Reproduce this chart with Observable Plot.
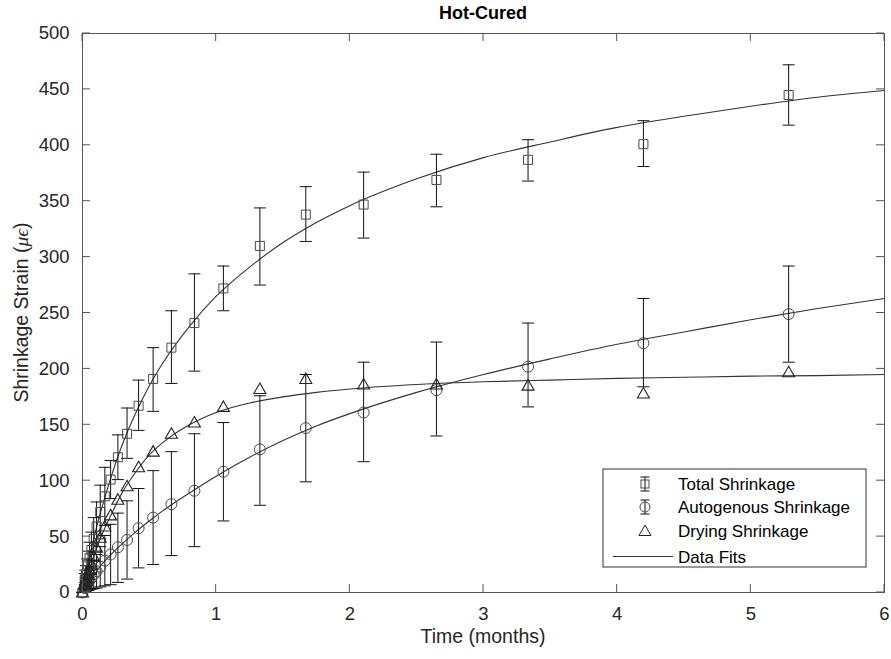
<!DOCTYPE html>
<html>
<head>
<meta charset="utf-8">
<script src="https://cdn.jsdelivr.net/npm/d3@7"></script>
<script src="https://cdn.jsdelivr.net/npm/@observablehq/plot@0.6"></script>
<style>
  html, body { margin: 0; padding: 0; background: #fff; }
  #chart { width: 891px; height: 659px; }
</style>
</head>
<body>
<div id="chart"></div>
<script>
// ---------- data ----------
const chartTitle = "Hot-Cured";
const xLabel = "Time (months)";
const yLabelMain = "Shrinkage Strain (";
const yLabelUnit = "μϵ";
const seriesNames = ["Total Shrinkage", "Autogenous Shrinkage", "Drying Shrinkage", "Data Fits"];

const xTicks = [0, 1, 2, 3, 4, 5, 6];
const yTicks = [0, 50, 100, 150, 200, 250, 300, 350, 400, 450, 500];

// measurement times (months)
const times = [0, 0.0167, 0.0210, 0.0264, 0.0333, 0.0420, 0.0528, 0.0667, 0.0837, 0.1054, 0.1327,
  0.1671, 0.2103, 0.2648, 0.3333, 0.4196, 0.5283, 0.6651, 0.8373, 1.0541, 1.3270, 1.6706,
  2.1032, 2.6478, 3.3333, 4.1964, 5.2829];

const totalVals = [0, 11, 13, 16, 20, 25, 31, 38, 48, 59, 72, 86, 101, 121, 142, 167, 191, 219, 241, 272, 310, 338, 347, 369, 387, 401, 445];
const totalLo   = [0, 5, 6, 8, 10, 13, 17, 22, 29, 37, 48, 60, 84, 101, 120, 145, 162, 187, 198, 252, 275, 314, 317, 345, 368, 381, 418];
const totalHi   = [0, 17, 20, 24, 30, 37, 45, 54, 67, 81, 96, 112, 118, 141, 165, 190, 219, 252, 285, 292, 344, 363, 376, 392, 405, 422, 472];

const autoVals = [0, 4, 5, 6, 7.5, 9, 11, 13, 16, 19, 23, 28.5, 34, 40.5, 47, 57.5, 67, 79, 91, 108, 128, 147, 161, 181, 202, 223, 249];
const autoLo   = [0, 1, 1, 1.5, 2, 2, 2.5, 3, 3.5, 4, 5, 6, 7, 9, 12, 22, 25, 33, 41, 64, 78, 99, 117, 140, 166, 184, 206];
const autoHi   = [0, 7, 9, 10.5, 13, 16, 19.5, 23, 28.5, 34, 41, 51, 61, 71, 82, 93, 109, 126, 142, 152, 176, 195, 206, 224, 241, 263, 292];

const dryVals = [0, 7, 8, 10, 12.5, 16, 20, 25, 32, 40, 49, 59, 69, 83, 95, 112, 126, 142, 152, 166, 182, 191, 186, 186, 185, 178, 197];

// fitted curves
const fitT     = [0, 0.02, 0.05, 0.1, 0.15, 0.2, 0.3, 0.4, 0.5, 0.6, 0.8, 1.0, 1.25, 1.5, 1.75, 2.0, 2.5, 3.0, 3.5, 4.0, 4.5, 5.0, 5.5, 6.0];
const fitTotal = [0, 13, 30, 56, 78, 98, 133, 161, 185, 205, 238, 265, 291, 313, 331, 346, 370, 389, 403, 416, 426, 435, 443, 449];
const fitAuto  = [0, 4, 9.5, 18, 26, 32.5, 44, 54.5, 64, 73, 89, 104, 121, 136, 149, 160, 179, 195, 209, 222, 233, 244, 254, 263];
const fitDry   = [0, 8, 20, 38, 53, 66, 90, 108, 123, 134, 150, 161, 169.5, 175, 179, 182, 186, 188.5, 190, 191.5, 192.5, 193.5, 194, 195];

// ---------- tables built from the arrays ----------
const totalData = times.map((t, i) => ({t, v: totalVals[i], lo: totalLo[i], hi: totalHi[i]}));
const autoData  = times.map((t, i) => ({t, v: autoVals[i], lo: autoLo[i], hi: autoHi[i]}));
const dryData   = times.map((t, i) => ({t, v: dryVals[i]}));
const fits = [fitTotal, fitAuto, fitDry].map((arr, k) =>
  fitT.map((t, i) => ({t, v: arr[i], k})));

// ---------- symbols ----------
const rOf = size => Math.sqrt(size / Math.PI);
const capSym = {draw(ctx, size) { const r = rOf(size); ctx.moveTo(-r, 0); ctx.lineTo(r, 0); }};
const squareSym = {draw(ctx, size) { const r = rOf(size); ctx.rect(-r, -r, 2 * r, 2 * r); }};
const triSym = {draw(ctx, size) { const r = rOf(size);
  ctx.moveTo(0, -r); ctx.lineTo(r, 0.75 * r); ctx.lineTo(-r, 0.75 * r); ctx.closePath(); }};

const markerStroke = "#4a4a4a";
const barStroke = "#111";
const fitStroke = "#333";
const FONT = "'Liberation Sans', Arial, Helvetica, sans-serif";

function errorMarks(data) {
  return [
    Plot.ruleX(data, {x: "t", y1: "lo", y2: "hi", stroke: barStroke, strokeWidth: 1}),
    Plot.dot(data, {x: "t", y: "lo", symbol: capSym, r: 6, stroke: barStroke, fill: "none", strokeWidth: 1}),
    Plot.dot(data, {x: "t", y: "hi", symbol: capSym, r: 6, stroke: barStroke, fill: "none", strokeWidth: 1})
  ];
}

const plot = Plot.plot({
  width: 891,
  height: 659,
  marginLeft: 82,
  marginRight: 7,
  marginTop: 33,
  marginBottom: 67,
  style: {fontFamily: FONT, fontSize: "18px", color: "#262626", background: "#fff", overflow: "visible"},
  x: {domain: [0, 6], ticks: xTicks, tickSize: 0, tickPadding: 14, tickFormat: d => String(d), label: null},
  y: {domain: [0, 500], ticks: yTicks, tickSize: 0, tickPadding: 13, tickFormat: d => String(d), label: null},
  marks: [
    ...fits.map(f => Plot.line(f, {x: "t", y: "v", stroke: fitStroke, strokeWidth: 1.1, curve: "monotone-x"})),
    ...errorMarks(totalData),
    Plot.dot(totalData, {x: "t", y: "v", symbol: squareSym, r: 4.5, stroke: markerStroke, fill: "none", strokeWidth: 1}),
    ...errorMarks(autoData),
    Plot.dot(autoData, {x: "t", y: "v", symbol: "circle", r: 5.5, stroke: markerStroke, fill: "none", strokeWidth: 1}),
    Plot.dot(dryData, {x: "t", y: "v", symbol: triSym, r: 6, stroke: "#222", fill: "none", strokeWidth: 1.1}),
    Plot.frame({stroke: "#555", strokeWidth: 1})
  ]
});

document.getElementById("chart").appendChild(plot);

const svg = d3.select(plot);
// larger MATLAB-like tick labels
svg.selectAll("[aria-label='x-axis tick label'], [aria-label='y-axis tick label']")
  .attr("font-size", 18.5).attr("font-family", FONT).attr("fill", "#262626");
svg.selectAll("[aria-label='x-axis tick label'] text, [aria-label='y-axis tick label'] text")
  .attr("font-size", 18.5);

// ---------- MATLAB-like inward ticks, title, labels, legend ----------
const sx = plot.scale("x"), sy = plot.scale("y");
const x0 = sx.apply(0), x1 = sx.apply(6), y0 = sy.apply(0), y1 = sy.apply(500);
const TL = 8;
const tg = svg.append("g").attr("stroke", "#555").attr("stroke-width", 1);
xTicks.forEach(v => {
  const X = sx.apply(v);
  tg.append("line").attr("x1", X).attr("x2", X).attr("y1", y0).attr("y2", y0 - TL);
  tg.append("line").attr("x1", X).attr("x2", X).attr("y1", y1).attr("y2", y1 + TL);
});
yTicks.forEach(v => {
  const Y = sy.apply(v);
  tg.append("line").attr("x1", x0).attr("x2", x0 + TL).attr("y1", Y).attr("y2", Y);
  tg.append("line").attr("x1", x1).attr("x2", x1 - TL).attr("y1", Y).attr("y2", Y);
});

const cx = (x0 + x1) / 2, cy = (y0 + y1) / 2;
svg.append("text").attr("x", cx).attr("y", 19).attr("text-anchor", "middle")
  .attr("font-family", FONT).attr("font-size", 18).attr("font-weight", "bold").attr("fill", "#000")
  .text(chartTitle);
svg.append("text").attr("x", cx).attr("y", 643).attr("text-anchor", "middle")
  .attr("font-family", FONT).attr("font-size", 19.5).attr("fill", "#262626")
  .text(xLabel);
const yl = svg.append("text").attr("transform", `translate(28,${cy}) rotate(-90)`).attr("text-anchor", "middle")
  .attr("font-family", FONT).attr("font-size", 19.5).attr("fill", "#262626");
yl.append("tspan").text(yLabelMain);
yl.append("tspan").attr("font-family", "'Liberation Serif', 'DejaVu Serif', serif").attr("font-style", "italic").text(yLabelUnit);
yl.append("tspan").text(")");

// legend
const lg = svg.append("g");
const LX = 603, LY = 469, LW = 263, LH = 98;
lg.append("rect").attr("x", LX).attr("y", LY).attr("width", LW).attr("height", LH)
  .attr("fill", "#fff").attr("stroke", "#333").attr("stroke-width", 1);
const rowsY = [484, 507, 531, 556.5];
const symX = 645, textX = 678;
seriesNames.forEach((name, i) => {
  lg.append("text").attr("x", textX).attr("y", rowsY[i] + 6).attr("text-anchor", "start")
    .attr("font-family", FONT).attr("font-size", 17).attr("fill", "#000").text(name);
});
function legendBar(y) {
  lg.append("line").attr("x1", symX).attr("x2", symX).attr("y1", y - 7).attr("y2", y + 7).attr("stroke", barStroke);
  lg.append("line").attr("x1", symX - 4.5).attr("x2", symX + 4.5).attr("y1", y - 7).attr("y2", y - 7).attr("stroke", barStroke);
  lg.append("line").attr("x1", symX - 4.5).attr("x2", symX + 4.5).attr("y1", y + 7).attr("y2", y + 7).attr("stroke", barStroke);
}
legendBar(rowsY[0]);
lg.append("rect").attr("x", symX - 4).attr("y", rowsY[0] - 4).attr("width", 8).attr("height", 8)
  .attr("fill", "none").attr("stroke", markerStroke);
legendBar(rowsY[1]);
lg.append("circle").attr("cx", symX).attr("cy", rowsY[1]).attr("r", 5)
  .attr("fill", "none").attr("stroke", markerStroke);
lg.append("path").attr("d", `M${symX},${rowsY[2] - 6}L${symX + 6},${rowsY[2] + 4.5}L${symX - 6},${rowsY[2] + 4.5}Z`)
  .attr("fill", "none").attr("stroke", "#222");
lg.append("line").attr("x1", 613).attr("x2", 673).attr("y1", rowsY[3]).attr("y2", rowsY[3])
  .attr("stroke", fitStroke).attr("stroke-width", 1.1);
</script>
</body>
</html>
